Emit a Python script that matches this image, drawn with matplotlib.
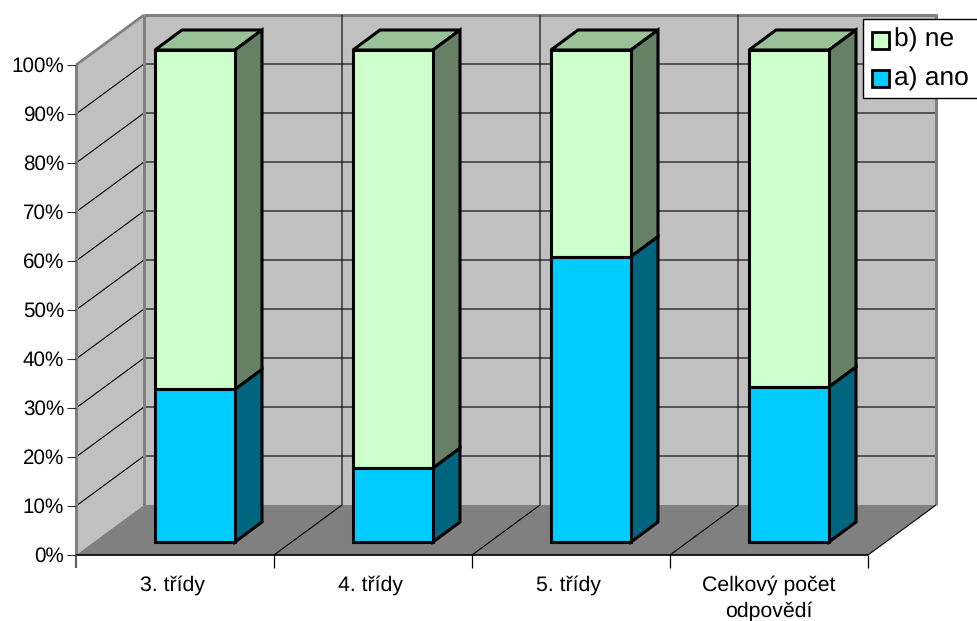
import matplotlib
matplotlib.use("Agg")
import matplotlib.pyplot as plt
from matplotlib.patches import Polygon, Rectangle

plt.rcParams['font.family'] = ['Liberation Sans', 'DejaVu Sans']
plt.rcParams['text.hinting'] = 'no_hinting'

categories = ['3. třídy ', '4. třídy ', '5. třídy ', 'Celkový počet\nodpovědí']
ano = [31, 15, 58, 31.5]
ne = [69, 85, 42, 68.5]
yticks = [0, 10, 20, 30, 40, 50, 60, 70, 80, 90, 100]
legend_labels = ['b) ne', 'a) ano']

W, H = 977, 621
# wall depth and bar depth, in category / percent units
DX, DY = 68 / 198, 50 / 4.9
BAR_W = 80 / 198
BAR_X = 79 / 198
BAR_Y = 13 / 4.9
BAR_DX, BAR_DY = 27 / 198, 20 / 4.9
BAR_H = 492 / 490


def poly(ax, pts, fc, ec='none', lw=0, z=1):
    ax.add_patch(Polygon(pts, closed=True, fc=fc, ec=ec, lw=lw, zorder=z,
                         clip_on=False, joinstyle='miter'))


def line(ax, xs, ys, c='black', lw=0.8, z=2):
    ax.plot(xs, ys, color=c, lw=lw, zorder=z, clip_on=False, solid_capstyle='butt')


fig = plt.figure(figsize=(W / 100, H / 100), dpi=100)
ax = fig.add_axes([76 / W, 1 - 555 / H, 792 / W, 490 / H])
ax.set_xlim(0, 4)
ax.set_ylim(0, 100)
ax.axis('off')

n = len(categories)
# walls and floor
poly(ax, [(0, 0), (DX, DY), (DX, 100 + DY), (0, 100)], '#c0c0c0')
poly(ax, [(DX, DY), (n + DX, DY), (n + DX, 100 + DY), (DX, 100 + DY)], '#c0c0c0')
poly(ax, [(0, 0), (n, 0), (n + DX, DY), (DX, DY)], '#808080')

for t in yticks[1:-1]:
    line(ax, [0, DX, n + DX], [t, t + DY, t + DY])
line(ax, [0, DX], [100, 100 + DY], c='#808080', lw=2)
line(ax, [0, 0], [0, 100], c='#808080', lw=2.2)
line(ax, [DX, n + DX, n + DX], [100 + DY, 100 + DY, DY], c='#808080', lw=2.2)
line(ax, [DX, DX], [DY, 100 + DY], c='#808080', lw=2.2)
for i in range(1, n):
    line(ax, [i, i + DX, i + DX], [0, DY, 100 + DY])
line(ax, [n, n + DX], [0, DY])

# axes
line(ax, [0, n], [0, 0], lw=1.2, z=3)
for i in range(n + 1):
    line(ax, [i, i], [0, -13 / 4.9 * 1.0], lw=0.9 if i else 1.6, c='black' if i else '#606060', z=3)
for t in yticks:
    line(ax, [-9 / 198 * 1.0, 0], [t, t], c='#303030', z=3)
    ax.text(-12 / 198, t - 0.3, f'{t}%', ha='right', va='center', fontsize=14.9, color='black')
for i, c in enumerate(categories):
    ax.text(i + 0.5, -4.2, c, ha='center', va='top', fontsize=15.3, color='black', linespacing=1.4)

# stacked bars, lower part last so it overlaps the upper one
EW = 2.2
for i in range(n):
    x0 = i + BAR_X
    x1 = x0 + BAR_W
    bottom = BAR_Y
    a = ano[i] * BAR_H
    b = ne[i] * BAR_H
    top = bottom + a + b
    mid = bottom + a
    # top face and upper part
    poly(ax, [(x0, top), (x1, top), (x1 + BAR_DX, top + BAR_DY), (x0 + BAR_DX, top + BAR_DY)],
         '#99c299', 'black', EW, 5)
    poly(ax, [(x1, mid), (x1 + BAR_DX, mid + BAR_DY), (x1 + BAR_DX, top + BAR_DY), (x1, top)],
         '#668066', 'black', EW, 5)
    poly(ax, [(x0, mid), (x1, mid), (x1, top), (x0, top)], '#ccffcc', 'black', EW, 5)
    # lower part
    poly(ax, [(x1, bottom), (x1 + BAR_DX, bottom + BAR_DY), (x1 + BAR_DX, mid + BAR_DY), (x1, mid)],
         '#006680', 'black', EW, 6)
    poly(ax, [(x0, bottom), (x1, bottom), (x1, mid), (x0, mid)], '#00ccff', 'black', EW, 6)

# legend box, figure pixel coordinates
lax = fig.add_axes([0, 0, 1, 1])
lax.set_xlim(0, W)
lax.set_ylim(H, 0)
lax.axis('off')
lax.patch.set_alpha(0)
lax.add_patch(Rectangle((862.5, 18.5), 120, 79, fc='white', ec='black', lw=1.0, zorder=10, clip_on=False))
for y, lab, col in zip([40, 78.5], legend_labels, ['#ccffcc', '#00ccff']):
    lax.add_patch(Rectangle((871.5, y - 8.5), 17, 17, fc=col, ec='black', lw=2.0, zorder=11))
    lax.text(894, y, lab, ha='left', va='center', fontsize=19, color='black', zorder=12)

fig.savefig('out.png', dpi=100)
